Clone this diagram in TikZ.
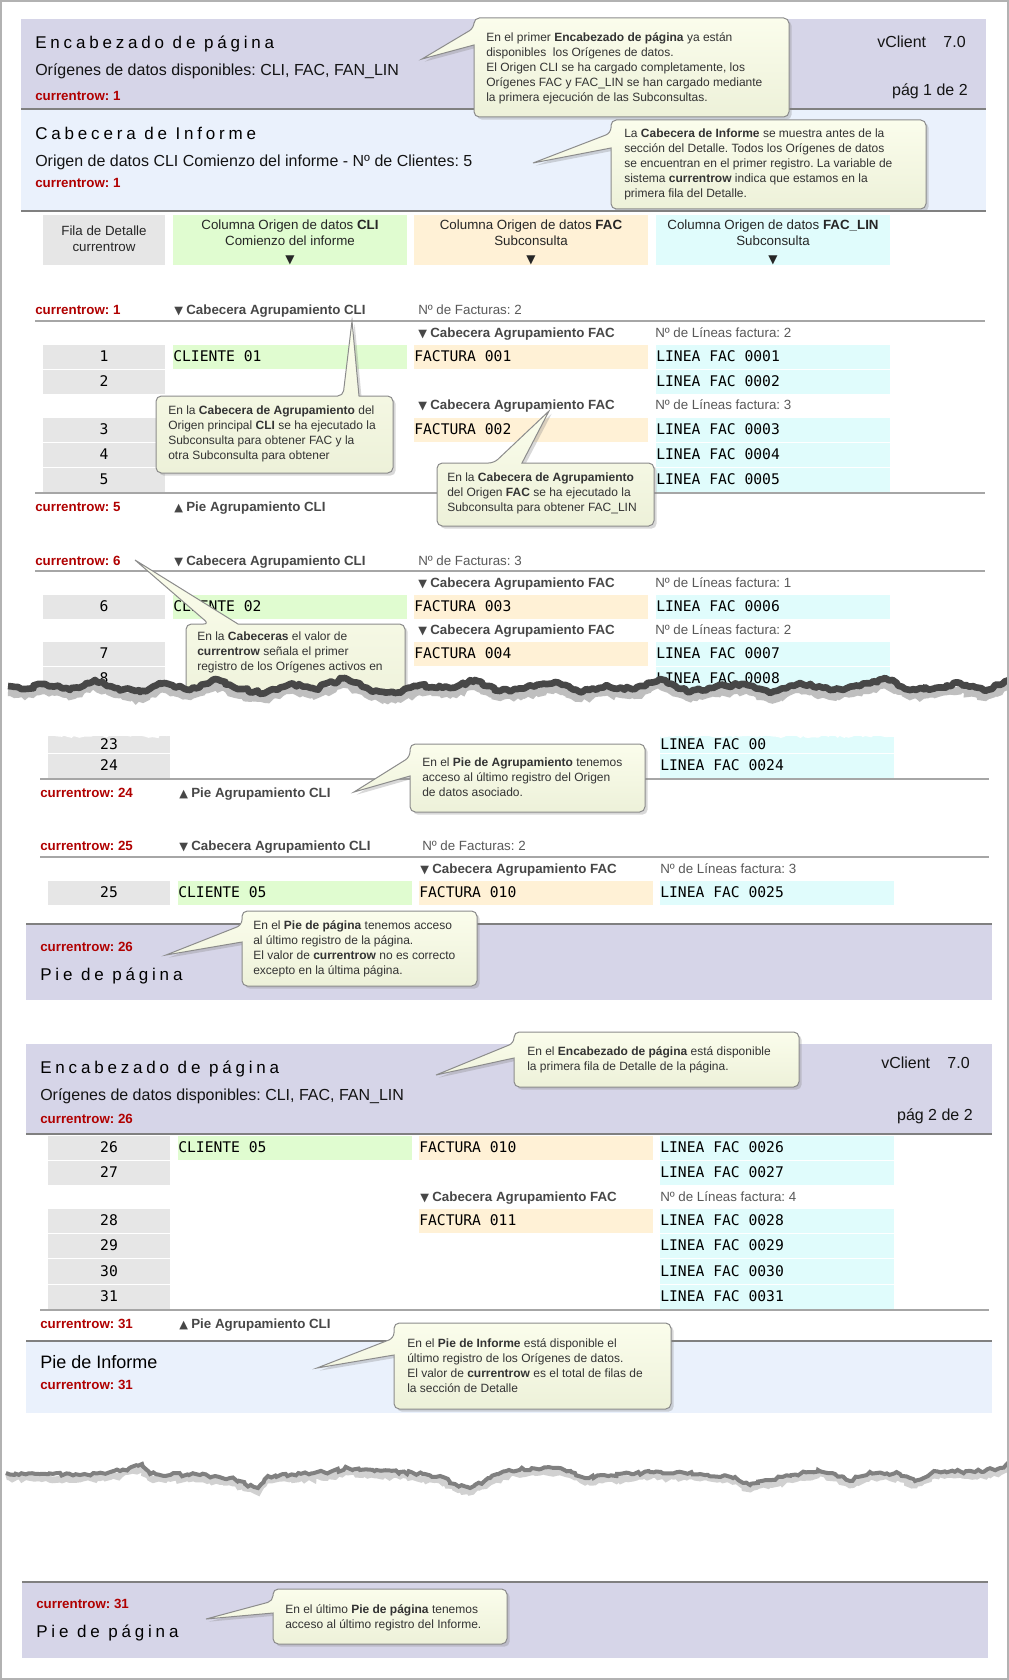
\documentclass[tikz,border=0pt]{standalone}
\usepackage{fontspec}
\setmainfont{Liberation Sans}
\setmonofont{DejaVu Sans Mono}
\newfontfamily\spaced[LetterSpace=22.5]{Liberation Sans}
\newfontfamily\dejavu{DejaVu Sans}
\usetikzlibrary{shadows,decorations.pathmorphing}
\definecolor{hdr}{RGB}{214,213,232}
\definecolor{rep}{RGB}{234,241,252}
\definecolor{cgray}{RGB}{230,230,230}
\definecolor{cgreen}{RGB}{224,252,208}
\definecolor{corange}{RGB}{255,241,214}
\definecolor{ccyan}{RGB}{224,252,252}
\definecolor{redrow}{RGB}{176,0,0}
\definecolor{notetop}{RGB}{251,253,236}
\definecolor{notebot}{RGB}{237,241,217}
\tikzset{
  ttl/.style={font=\spaced\fontsize{12.75}{14}\selectfont, anchor=base west, inner sep=0, text=black},
  sub/.style={font=\fontsize{12}{14}\selectfont, anchor=base west, inner sep=0, text=black!92},
  subr/.style={font=\fontsize{12}{14}\selectfont, anchor=base east, inner sep=0, text=black!92},
  crow/.style={font=\bfseries\fontsize{10}{12}\selectfont, text=redrow, anchor=base west, inner sep=0},
  grp/.style={font=\bfseries\fontsize{10}{12}\selectfont, text=black!72, anchor=base west, inner sep=0},
  cnt/.style={font=\fontsize{10}{12}\selectfont, text=black!65, anchor=base west, inner sep=0},
  hd/.style={font=\fontsize{10}{12}\selectfont, text=black!85, anchor=base, inner sep=0},
  mono/.style={font=\ttfamily\fontsize{11}{13}\selectfont, anchor=base west, inner sep=0},
  num/.style={font=\ttfamily\fontsize{11}{13}\selectfont, anchor=base, inner sep=0},
  note/.style={font=\fontsize{9}{11.25}\selectfont, text=black!80, align=left, anchor=north west, inner sep=0},
  callout/.style={draw=black!45, line width=0.75pt, top color=notetop, bottom color=notebot,
     drop shadow={opacity=0.3, shadow xshift=2pt, shadow yshift=-2pt}},
  sepline/.style={draw=black!35, line width=1.5pt},
  bline/.style={draw=black!50, line width=1.5pt},
  tearline/.style={decorate, decoration={random steps, segment length=2.5pt, amplitude=1.3pt}},
}
\newcommand\dn{{\dejavu\fontsize{8.5}{8}\selectfont ▼}\hspace{2.5pt}}
\newcommand\up{{\dejavu\fontsize{8.5}{8}\selectfont ▲}\hspace{2.5pt}}
\newcommand\cellt[6]{\fill[#1] (#2,#4+0.5) rectangle (#3,#5-0.5); \node[mono] at (#2,{(#4+#5)/2+5}) {#6};}
\newcommand\numc[5]{\fill[cgray] (#1,#3+0.5) rectangle (#2,#4-0.5); \node[num] at ({(#1+#2)/2},{(#3+#4)/2+5}) {#5};}
\newcommand\callL[8]{\draw[callout] (#1,#7) -- (#5,#6) -- (#1,#8) [rounded corners=4pt] -- (#1,#4) -- (#3,#4) -- (#3,#2) -- (#1,#2) -- cycle;}
\newcommand\callT[8]{\draw[callout] (#7,#2) -- (#5,#6) -- (#8,#2) [rounded corners=4pt] -- (#3,#2) -- (#3,#4) -- (#1,#4) -- (#1,#2) -- cycle;}
\frenchspacing
\begin{document}
\frenchspacing
\begin{tikzpicture}[x=0.75pt,y=-0.75pt]
\useasboundingbox (0,0) rectangle (1009,1680);
\fill[white] (0,0) rectangle (1009,1680);
\pgfmathsetseed{7}
% ---------- page header 1
\fill[hdr] (21,19) rectangle (986,109);
\fill[rep] (21,109) rectangle (986,211);
\draw[bline] (21,109) -- (986,109);
\draw[bline] (21,211) -- (986,211);
\node[ttl] (t1) at (35,48.5) {Encabezado de página};
\node[sub] (s1) at (35,75.5) {Orígenes de datos disponibles: CLI, FAC, FAN\_LIN};
\node[crow] (c1) at (35,100.5) {currentrow: 1};
\node[subr] (v1) at (966,47.5) {vClient\hspace*{13pt}7.0};
\node[subr] (p1) at (968,95.5) {pág 1 de 2};
% report header
\node[ttl] (t2) at (35,139.5) {Cabecera de Informe};
\node[sub] (s2) at (35,166.5) {Origen de datos CLI Comienzo del informe - Nº de Clientes: 5};
\node[crow] (c2) at (35,187.5) {currentrow: 1};
% ---------- column headers
\fill[cgray] (43,215) rectangle (165,265);
\fill[cgreen] (173,215) rectangle (407,265);
\fill[corange] (414,215) rectangle (648,265);
\fill[ccyan] (656,215) rectangle (890,265);
\node[hd] (h1) at (104,236) {Fila de Detalle};
\node[hd] (h2) at (104,252) {currentrow};
\node[hd] (h3) at (290,229) {Columna Origen de datos \textbf{CLI}};
\node[hd] (h4) at (290,246) {Comienzo del informe};
\node[hd] (h5) at (290,263) {\dejavu\fontsize{9}{9}\selectfont ▼};
\node[hd] (h6) at (531,229) {Columna Origen de datos \textbf{FAC}};
\node[hd] (h7) at (531,246) {Subconsulta};
\node[hd] (h8) at (531,263) {\dejavu\fontsize{9}{9}\selectfont ▼};
\node[hd] (h9) at (773,229) {Columna Origen de datos \textbf{FAC\_LIN}};
\node[hd] (h10) at (773,246) {Subconsulta};
\node[hd] (h11) at (773,263) {\dejavu\fontsize{9}{9}\selectfont ▼};
% ---------- group 1
\node[crow] (g1a) at (35,314.5) {currentrow: 1};
\node[grp] (g1b) at (174,314.5) {\dn Cabecera Agrupamiento CLI};
\node[cnt] (g1c) at (418,314.5) {Nº de Facturas: 2};
\draw[sepline] (35,321) -- (985,321);
\node[grp] (f1a) at (418,337.5) {\dn Cabecera Agrupamiento FAC};
\node[cnt] (f1b) at (655,337.5) {Nº de Líneas factura: 2};
\numc{43}{165}{344}{369}{1}
\cellt{cgreen}{173}{407}{344}{369}{CLIENTE 01}
\cellt{corange}{414}{648}{344}{369}{FACTURA 001}
\cellt{ccyan}{656}{890}{344}{369}{LINEA FAC 0001}
\numc{43}{165}{369}{394}{2}
\cellt{ccyan}{656}{890}{369}{394}{LINEA FAC 0002}
\node[grp] (f2a) at (418,409.5) {\dn Cabecera Agrupamiento FAC};
\node[cnt] (f2b) at (655,409.5) {Nº de Líneas factura: 3};
\numc{43}{165}{417}{442}{3}
\cellt{corange}{414}{648}{417}{442}{FACTURA 002}
\cellt{ccyan}{656}{890}{417}{442}{LINEA FAC 0003}
\numc{43}{165}{442}{467}{4}
\cellt{ccyan}{656}{890}{442}{467}{LINEA FAC 0004}
\numc{43}{165}{467}{492}{5}
\cellt{ccyan}{656}{890}{467}{492}{LINEA FAC 0005}
\draw[sepline] (35,493) -- (985,493);
\node[crow] (e1a) at (35,511.5) {currentrow: 5};
\node[grp] (e1b) at (174,511.5) {\up Pie Agrupamiento CLI};
% ---------- group 2
\node[crow] (g2a) at (35,565.5) {currentrow: 6};
\node[grp] (g2b) at (174,565.5) {\dn Cabecera Agrupamiento CLI};
\node[cnt] (g2c) at (418,565.5) {Nº de Facturas: 3};
\draw[sepline] (35,571) -- (985,571);
\node[grp] (f3a) at (418,587.5) {\dn Cabecera Agrupamiento FAC};
\node[cnt] (f3b) at (655,587.5) {Nº de Líneas factura: 1};
\numc{43}{165}{594}{619}{6}
\cellt{cgreen}{173}{407}{594}{619}{CLIENTE 02}
\cellt{corange}{414}{648}{594}{619}{FACTURA 003}
\cellt{ccyan}{656}{890}{594}{619}{LINEA FAC 0006}
\node[grp] (f4a) at (418,634.5) {\dn Cabecera Agrupamiento FAC};
\node[cnt] (f4b) at (655,634.5) {Nº de Líneas factura: 2};
\numc{43}{165}{641}{666}{7}
\cellt{corange}{414}{648}{641}{666}{FACTURA 004}
\cellt{ccyan}{656}{890}{641}{666}{LINEA FAC 0007}
\numc{43}{165}{666}{691}{8}
\cellt{ccyan}{656}{890}{666}{691}{LINEA FAC 0008}
% ---------- callouts upper
\callL{474}{18}{789}{117}{422}{59}{28}{45}
\node[note] (n1) at (486,32) {En el primer \textbf{Encabezado de página} ya están\\disponibles\ \ los Orígenes de datos.\\El Origen CLI se ha cargado completamente, los\\Orígenes FAC y FAC\_LIN se han cargado mediante\\la primera ejecución de las Subconsultas.};
\callL{611}{120}{926}{209}{533}{163}{133}{148}
\node[note] (n2) at (624,129) {La \textbf{Cabecera de Informe} se muestra antes de la\\sección del Detalle. Todos los Orígenes de datos\\se encuentran en el primer registro. La variable de\\sistema \textbf{currentrow} indica que estamos en la\\primera fila del Detalle.};
\callT{156}{396}{393}{473}{352}{321}{343}{359}
\node[note] (n3) at (168,406) {En la \textbf{Cabecera de Agrupamiento} del\\Origen principal \textbf{CLI} se ha ejecutado la\\Subconsulta para obtener FAC y la\\otra Subconsulta para obtener};
\callT{437}{463}{654}{526}{549}{411}{494}{522}
\node[note] (n4) at (447,473) {En la \textbf{Cabecera de Agrupamiento}\\del Origen \textbf{FAC} se ha ejecutado la\\Subconsulta para obtener FAC\_LIN};
\callT{186}{624}{405}{720}{135}{560}{209}{238}
\node[note] (n5) at (197,632) {En la \textbf{Cabeceras} el valor de\\\textbf{currentrow} señala el primer\\registro de los Orígenes activos en};
% ---------- tear 1
\fill[white] (3,688) -- (25,690) -- (45,686) -- (70,691) -- (95,682) -- (115,689) -- (140,693) -- (165,685) -- (190,691) -- (215,681) -- (240,690) -- (265,694) -- (290,686) -- (315,690) -- (345,680) -- (370,691) -- (395,694) -- (420,687) -- (450,689) -- (475,682) -- (500,692) -- (525,689) -- (555,684) -- (580,693) -- (605,687) -- (635,690) -- (660,681) -- (690,693) -- (715,688) -- (745,686) -- (770,694) -- (800,685) -- (830,691) -- (860,687) -- (885,680) -- (910,691) -- (935,689) -- (960,685) -- (985,692) -- (1009,682) -- (1009,733) -- (3,733) -- cycle;
\draw[tearline, line width=6pt, black!25, yshift=-4.5pt] (8,686) -- (25,689) -- (45,684) -- (70,690) -- (95,680) -- (115,688) -- (140,692) -- (165,683) -- (190,690) -- (215,679) -- (240,689) -- (265,693) -- (290,684) -- (315,689) -- (345,678) -- (370,690) -- (395,693) -- (420,685) -- (450,688) -- (475,680) -- (500,691) -- (525,688) -- (555,682) -- (580,692) -- (605,686) -- (635,689) -- (660,679) -- (690,692) -- (715,687) -- (745,684) -- (770,693) -- (800,683) -- (830,690) -- (860,686) -- (885,678) -- (910,690) -- (935,688) -- (960,683) -- (985,691) -- (1009,680);
\draw[tearline, line width=5pt, black!72, line join=round] (8,686) -- (25,689) -- (45,684) -- (70,690) -- (95,680) -- (115,688) -- (140,692) -- (165,683) -- (190,690) -- (215,679) -- (240,689) -- (265,693) -- (290,684) -- (315,689) -- (345,678) -- (370,690) -- (395,693) -- (420,685) -- (450,688) -- (475,680) -- (500,691) -- (525,688) -- (555,682) -- (580,692) -- (605,686) -- (635,689) -- (660,679) -- (690,692) -- (715,687) -- (745,684) -- (770,693) -- (800,683) -- (830,690) -- (860,686) -- (885,678) -- (910,690) -- (935,688) -- (960,683) -- (985,691) -- (1009,680);
% ---------- lower piece
\numc{48}{170}{735}{753}{23}
\cellt{ccyan}{660}{894}{735}{753}{LINEA FAC 00}
\draw[tearline, white, line width=2pt] (40,735) -- (900,735);
\numc{48}{170}{753}{778}{24}
\cellt{ccyan}{660}{894}{753}{778}{LINEA FAC 0024}
\draw[sepline] (40,779) -- (989,779);
\node[crow] (e2a) at (40,797.5) {currentrow: 24};
\node[grp] (e2b) at (179,797.5) {\up Pie Agrupamiento CLI};
\node[crow] (g3a) at (40,850.5) {currentrow: 25};
\node[grp] (g3b) at (179,850.5) {\dn Cabecera Agrupamiento CLI};
\node[cnt] (g3c) at (422,850.5) {Nº de Facturas: 2};
\draw[sepline] (40,857) -- (989,857);
\node[grp] (f5a) at (420,873.5) {\dn Cabecera Agrupamiento FAC};
\node[cnt] (f5b) at (660,873.5) {Nº de Líneas factura: 3};
\numc{48}{170}{880}{905}{25}
\cellt{cgreen}{178}{412}{880}{905}{CLIENTE 05}
\cellt{corange}{419}{653}{880}{905}{FACTURA 010}
\cellt{ccyan}{660}{894}{880}{905}{LINEA FAC 0025}
% footer 1
\fill[hdr] (26,924) rectangle (992,1000);
\draw[bline] (26,924) -- (992,924);
\node[crow] (c3) at (40,951.5) {currentrow: 26};
\node[ttl] (t3) at (40,980.5) {Pie de página};
% page header 2
\fill[hdr] (26,1044) rectangle (992,1134);
\draw[bline] (26,1134) -- (992,1134);
\node[ttl] (t4) at (40,1073.5) {Encabezado de página};
\node[sub] (s4) at (40,1100.5) {Orígenes de datos disponibles: CLI, FAC, FAN\_LIN};
\node[crow] (c4) at (40,1123.5) {currentrow: 26};
\node[subr] (v2) at (970,1068.5) {vClient\hspace*{13pt}7.0};
\node[subr] (p2) at (973,1120.5) {pág 2 de 2};
% page 2 rows
\numc{48}{170}{1135}{1160}{26}
\cellt{cgreen}{178}{412}{1135}{1160}{CLIENTE 05}
\cellt{corange}{419}{653}{1135}{1160}{FACTURA 010}
\cellt{ccyan}{660}{894}{1135}{1160}{LINEA FAC 0026}
\numc{48}{170}{1160}{1185}{27}
\cellt{ccyan}{660}{894}{1160}{1185}{LINEA FAC 0027}
\node[grp] (f6a) at (420,1201.5) {\dn Cabecera Agrupamiento FAC};
\node[cnt] (f6b) at (660,1201.5) {Nº de Líneas factura: 4};
\numc{48}{170}{1208}{1233}{28}
\cellt{corange}{419}{653}{1208}{1233}{FACTURA 011}
\cellt{ccyan}{660}{894}{1208}{1233}{LINEA FAC 0028}
\numc{48}{170}{1233}{1258}{29}
\cellt{ccyan}{660}{894}{1233}{1258}{LINEA FAC 0029}
\numc{48}{170}{1258}{1284}{30}
\cellt{ccyan}{660}{894}{1258}{1284}{LINEA FAC 0030}
\numc{48}{170}{1284}{1309}{31}
\cellt{ccyan}{660}{894}{1284}{1309}{LINEA FAC 0031}
\draw[sepline] (40,1310) -- (989,1310);
\node[crow] (e3a) at (40,1328.5) {currentrow: 31};
\node[grp] (e3b) at (179,1328.5) {\up Pie Agrupamiento CLI};
% report footer
\fill[rep] (26,1341) rectangle (992,1413);
\draw[bline] (26,1341) -- (992,1341);
\node[font=\fontsize{13.5}{15}\selectfont, anchor=base west, inner sep=0, text=black] (t5) at (40,1368.5) {Pie de Informe};
\node[crow] (c5) at (40,1389.5) {currentrow: 31};
% final footer
\fill[hdr] (22,1582) rectangle (988,1658);
\draw[bline] (22,1582) -- (988,1582);
\node[crow] (c6) at (36,1608.5) {currentrow: 31};
\node[ttl] (t6) at (36,1637.5) {Pie de página};
% ---------- callouts lower
\callL{410}{744}{645}{812}{354}{792}{757}{776}
\node[note] (n6) at (422,758) {En el \textbf{Pie de Agrupamiento} tenemos\\acceso al último registro del Origen\\de datos asociado.};
\callL{242}{911}{477}{986}{166}{955}{925}{942}
\node[note] (n7) at (253,920) {En el \textbf{Pie de página} tenemos acceso\\al último registro de la página.\\El valor de \textbf{currentrow} no es correcto\\excepto en la última página.};
\callL{514}{1032}{799}{1087}{436}{1075}{1043}{1058}
\node[note] (n8) at (527,1046) {En el \textbf{Encabezado de página} está disponible\\la primera fila de Detalle de la página.};
\callL{394}{1323}{671}{1409}{317}{1368}{1338}{1355}
\node[note] (n9) at (407,1338) {En el \textbf{Pie de Informe} está disponible el\\último registro de los Orígenes de datos.\\El valor de \textbf{currentrow} es el total de filas de\\la sección de Detalle};
\callL{273}{1589}{507}{1644}{206}{1619}{1601}{1613}
\node[note] (n10) at (285,1604) {En el último \textbf{Pie de página} tenemos\\acceso al último registro del Informe.};
% ---------- tear 2
\draw[tearline, line width=5pt, black!18, yshift=-3pt] (6,1473) -- (40,1474) -- (80,1475) -- (120,1471) -- (142,1464) -- (150,1474) -- (200,1475) -- (230,1478) -- (245,1484) -- (258,1488) -- (268,1476) -- (330,1472) -- (348,1468) -- (400,1472) -- (440,1476) -- (455,1484) -- (470,1488) -- (490,1478) -- (509,1470) -- (560,1468) -- (575,1473) -- (585,1478) -- (650,1472) -- (700,1474) -- (735,1477) -- (750,1485) -- (770,1480) -- (818,1470) -- (835,1474) -- (850,1481) -- (870,1472) -- (900,1474) -- (915,1481) -- (934,1471) -- (975,1472) -- (1000,1468) -- (1009,1462);
\draw[tearline, line width=3pt, black!50] (6,1473) -- (40,1474) -- (80,1475) -- (120,1471) -- (142,1464) -- (150,1474) -- (200,1475) -- (230,1478) -- (245,1484) -- (258,1488) -- (268,1476) -- (330,1472) -- (348,1468) -- (400,1472) -- (440,1476) -- (455,1484) -- (470,1488) -- (490,1478) -- (509,1470) -- (560,1468) -- (575,1473) -- (585,1478) -- (650,1472) -- (700,1474) -- (735,1477) -- (750,1485) -- (770,1480) -- (818,1470) -- (835,1474) -- (850,1481) -- (870,1472) -- (900,1474) -- (915,1481) -- (934,1471) -- (975,1472) -- (1000,1468) -- (1009,1462);
% ---------- frame
\draw[black!30, line width=1.5pt] (1,1) rectangle (1008,1679);
\end{tikzpicture}
\end{document}
